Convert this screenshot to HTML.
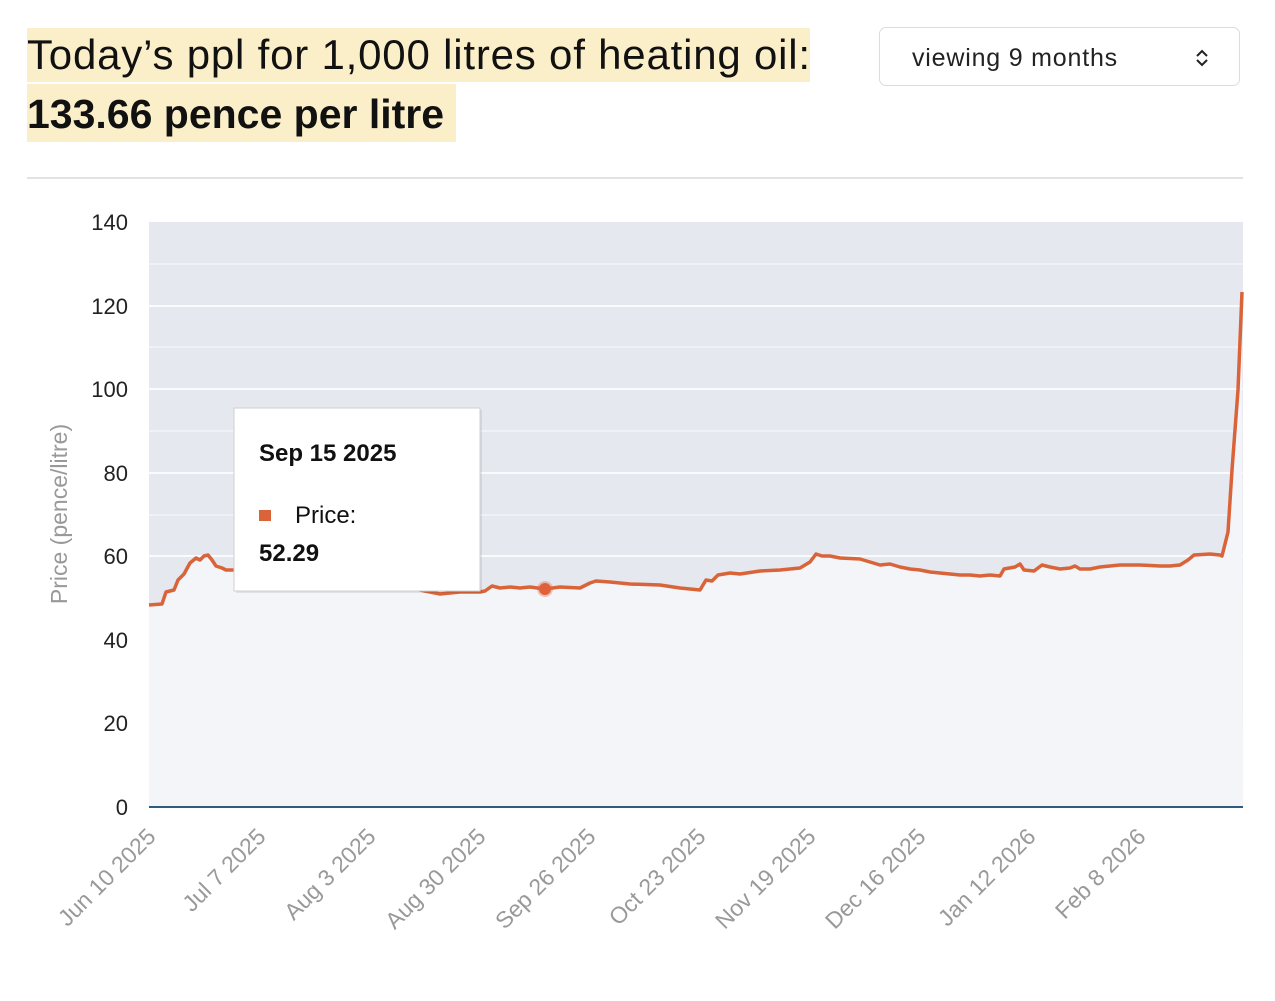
<!DOCTYPE html>
<html><head><meta charset="utf-8"><style>
body{margin:0;width:1275px;height:1001px;background:#fff;font-family:"Liberation Sans",sans-serif;position:relative;overflow:hidden}
.h{position:absolute;background:#fbefc9;color:#111;white-space:nowrap;left:27px}
#l1{top:28px;height:54px;width:783px;font-size:42px;line-height:54px;letter-spacing:0.8px}
#l2{top:84px;height:58px;width:429px;font-size:41px;font-weight:bold;line-height:60px;letter-spacing:0px}
#dd{position:absolute;left:879px;top:27px;width:361px;height:59px;border:1.5px solid #dcdcdc;border-radius:7px;box-sizing:border-box;font-size:25px;line-height:61px;padding-left:32px;color:#222;letter-spacing:0.8px}
#hr{position:absolute;left:27px;top:177px;width:1216px;height:2px;background:#e2e2e2}
</style></head><body>
<div class="h" id="l1">Today’s ppl for 1,000 litres of heating oil:</div>
<div class="h" id="l2">133.66 pence per litre</div>
<div id="dd">viewing 9 months<svg style="position:absolute;right:30px;top:20px" width="14" height="20" viewBox="0 0 14 20"><path d="M2 8 L7 3 L12 8 M2 12 L7 17 L12 12" fill="none" stroke="#222" stroke-width="2"/></svg></div>
<div id="hr"></div>
<svg width="1275" height="1001" style="position:absolute;left:0;top:0" font-family="Liberation Sans, sans-serif">
<rect x="149" y="222" width="1094" height="585" fill="#e6e8ef"/>
<g stroke="#f3f4f7" stroke-width="1.5">
<line x1="149" x2="1243" y1="264" y2="264"/><line x1="149" x2="1243" y1="347" y2="347"/><line x1="149" x2="1243" y1="431" y2="431"/><line x1="149" x2="1243" y1="515" y2="515"/>
</g>
<g stroke="#fafbfc" stroke-width="2">
<line x1="149" x2="1243" y1="306" y2="306"/><line x1="149" x2="1243" y1="389" y2="389"/><line x1="149" x2="1243" y1="473" y2="473"/><line x1="149" x2="1243" y1="556" y2="556"/>
</g>
<path id="ln" d="M149,605 L162,604 L166,592 L174,590 L178,580 L184,574 L190,563 L196,558 L200,560 L204,556 L208,555 L212,560 L216,566 L222,568 L226,570 L236,570 L300,575 L380,582 L420,590 L440,594 L460,592 L480,592 L485,591 L492,586 L500,588 L510,587 L520,588 L530,587 L545,589 L560,587 L580,588 L590,583 L596,581 L610,582 L630,584 L660,585 L680,588 L700,590 L706,580 L712,581 L718,575 L730,573 L740,574 L760,571 L780,570 L800,568 L810,562 L816,554 L822,556 L830,556 L840,558 L860,559 L870,562 L880,565 L890,564 L900,567 L910,569 L920,570 L930,572 L940,573 L950,574 L960,575 L970,575 L980,576 L990,575 L1000,576 L1004,569 L1015,567 L1020,564 L1024,570 L1034,571 L1042,565 L1050,567 L1060,569 L1070,568 L1075,566 L1080,569 L1090,569 L1100,567 L1120,565 L1140,565 L1160,566 L1170,566 L1180,565 L1188,560 L1194,555 L1210,554 L1220,555 L1222,556 L1228,532 L1232,470 L1238,390 L1242,292" fill="none"/>
<path d="M149,605 L162,604 L166,592 L174,590 L178,580 L184,574 L190,563 L196,558 L200,560 L204,556 L208,555 L212,560 L216,566 L222,568 L226,570 L236,570 L300,575 L380,582 L420,590 L440,594 L460,592 L480,592 L485,591 L492,586 L500,588 L510,587 L520,588 L530,587 L545,589 L560,587 L580,588 L590,583 L596,581 L610,582 L630,584 L660,585 L680,588 L700,590 L706,580 L712,581 L718,575 L730,573 L740,574 L760,571 L780,570 L800,568 L810,562 L816,554 L822,556 L830,556 L840,558 L860,559 L870,562 L880,565 L890,564 L900,567 L910,569 L920,570 L930,572 L940,573 L950,574 L960,575 L970,575 L980,576 L990,575 L1000,576 L1004,569 L1015,567 L1020,564 L1024,570 L1034,571 L1042,565 L1050,567 L1060,569 L1070,568 L1075,566 L1080,569 L1090,569 L1100,567 L1120,565 L1140,565 L1160,566 L1170,566 L1180,565 L1188,560 L1194,555 L1210,554 L1220,555 L1222,556 L1228,532 L1232,470 L1238,390 L1242,292 L1243,807 L149,807 Z" fill="#f4f5f8"/>
<use href="#ln" stroke="#d9643a" stroke-width="3.5" stroke-linejoin="round"/>
<line x1="149" x2="1243" y1="807" y2="807" stroke="#2d5c7f" stroke-width="2"/>
<circle cx="545" cy="589" r="8" fill="#e0603a" opacity="0.35"/><circle cx="545" cy="589" r="6" fill="#e0603a"/>
<g font-size="22" fill="#222" text-anchor="end">
<text x="128" y="230">140</text><text x="128" y="314">120</text><text x="128" y="397">100</text><text x="128" y="481">80</text><text x="128" y="564">60</text><text x="128" y="648">40</text><text x="128" y="731">20</text><text x="128" y="815">0</text>
</g>
<text transform="translate(67,514) rotate(-90)" font-size="23" fill="#999" text-anchor="middle">Price (pence/litre)</text>
<g font-size="23" fill="#999" text-anchor="end">
<text transform="translate(157,838) rotate(-45)">Jun 10 2025</text>
<text transform="translate(267,838) rotate(-45)">Jul 7 2025</text>
<text transform="translate(377,838) rotate(-45)">Aug 3 2025</text>
<text transform="translate(487,838) rotate(-45)">Aug 30 2025</text>
<text transform="translate(597,838) rotate(-45)">Sep 26 2025</text>
<text transform="translate(707,838) rotate(-45)">Oct 23 2025</text>
<text transform="translate(817,838) rotate(-45)">Nov 19 2025</text>
<text transform="translate(927,838) rotate(-45)">Dec 16 2025</text>
<text transform="translate(1037,838) rotate(-45)">Jan 12 2026</text>
<text transform="translate(1147,838) rotate(-45)">Feb 8 2026</text>
</g>
<rect x="236" y="410" width="246" height="183" fill="#000" opacity="0.08"/>
<rect x="234" y="408" width="246" height="183" fill="#fff" stroke="#cfcfcf"/>
<text x="259" y="461" font-size="24" font-weight="bold" fill="#111">Sep 15 2025</text>
<rect x="259" y="510" width="12" height="11" fill="#d9643a"/>
<text x="295" y="523" font-size="24" fill="#111">Price:</text>
<text x="259" y="561" font-size="24" font-weight="bold" fill="#111">52.29</text>
</svg>
</body></html>
